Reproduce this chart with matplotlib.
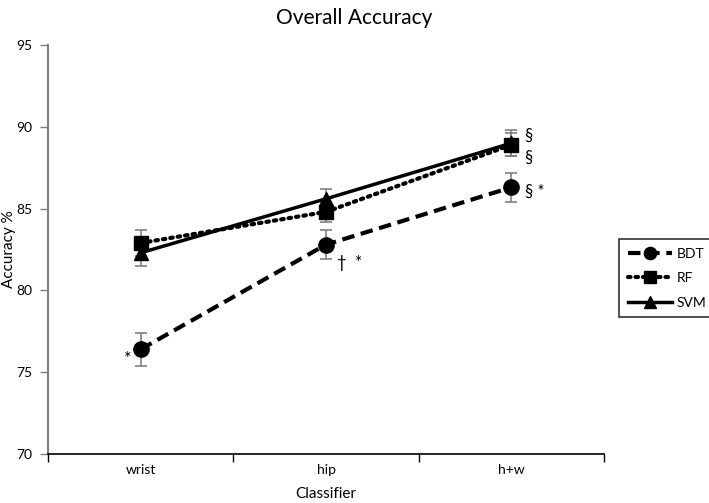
import matplotlib
matplotlib.use("Agg")
import matplotlib.pyplot as plt

plt.rcParams['font.family'] = ['Lato', 'DejaVu Sans']

categories = ["wrist", "hip", "h+w"]
bdt = [76.4, 82.8, 86.3]
bdt_err = [1.0, 0.9, 0.9]
rf = [82.9, 84.8, 88.9]
rf_err = [0.8, 0.6, 0.7]
svm = [82.3, 85.6, 89.0]
svm_err = [0.8, 0.6, 0.8]
yticks = [70, 75, 80, 85, 90, 95]

fig = plt.figure(figsize=(7.09, 5.03), dpi=100)
ax = fig.add_axes([0.0677, 0.0974, 0.7843, 0.8131])

x = list(range(1, len(categories) + 1))
ecol = "#808080"
for vals, errs in [(bdt, bdt_err), (rf, rf_err), (svm, svm_err)]:
    ax.errorbar(x, vals, yerr=errs, fmt='none', ecolor=ecol, elinewidth=1.2,
                capsize=4, capthick=1.2, zorder=2)

ax.plot(x, bdt, color='black', linestyle=(0, (3, 1.6)), linewidth=3, marker='o', markersize=11, label='BDT', zorder=3)
ax.plot(x, rf, color='black', linestyle=(0, (0.6, 1.2)), linewidth=3, marker='s', markersize=10, label='RF', zorder=3, dash_capstyle='round')
ax.plot(x, svm, color='black', linestyle='-', linewidth=2.5, marker='^', markersize=10, label='SVM', zorder=4)

ax.set_xlim(0.5, len(categories) + 0.5)
ax.set_ylim(70, 95)
ax.set_yticks(yticks)
ax.set_xticks(x)
ax.set_xticklabels(categories, fontsize=10)
ax.set_xticks([i + 0.5 for i in range(0, len(categories) + 1)], minor=True)
ax.tick_params(axis='x', which='major', length=0, pad=7)
ax.tick_params(axis='x', which='minor', length=6, width=1, color='black', direction='out')
ax.tick_params(axis='y', length=6, width=1, color=ecol, direction='out', labelsize=10, pad=5)

for s in ['top', 'right']:
    ax.spines[s].set_visible(False)
ax.spines['left'].set_color(ecol)
ax.spines['left'].set_linewidth(1.5)
ax.spines['bottom'].set_color('black')
ax.spines['bottom'].set_linewidth(1.2)

ax.set_xlabel("Classifier", fontsize=11)
ax.set_ylabel("Accuracy %", fontsize=11)
ax.xaxis.set_label_coords(0.5, -0.08)
ax.yaxis.set_label_coords(-0.057, 0.5)
fig.suptitle("Overall Accuracy", fontsize=15, y=0.985)

# significance annotations
fs = 12
ax.annotate("*", (x[0], bdt[0]), xytext=(-9.5, -7), textcoords='offset points', fontsize=fs + 1, ha='center', va='center')
ax.annotate("\u2020  *", (x[1], bdt[1]), xytext=(17, -13), textcoords='offset points', fontsize=fs, ha='center', va='center')
ax.annotate("\u00a7 *", (x[2], bdt[2]), xytext=(17, -3), textcoords='offset points', fontsize=fs, ha='center', va='center')
ax.annotate("\u00a7", (x[2], svm[2]), xytext=(12, 5), textcoords='offset points', fontsize=fs, ha='center', va='center')
ax.annotate("\u00a7", (x[2], rf[2]), xytext=(12, -9), textcoords='offset points', fontsize=fs, ha='center', va='center')

leg = ax.legend(loc='center left', bbox_to_anchor=(1.015, 0.43), frameon=True, fancybox=False,
                edgecolor='black', fontsize=10, handlelength=3.2, handletextpad=0.3,
                borderpad=0.6, labelspacing=0.9, markerscale=0.8)
leg.get_frame().set_linewidth(1.2)

fig.savefig("out.png", dpi=100)
